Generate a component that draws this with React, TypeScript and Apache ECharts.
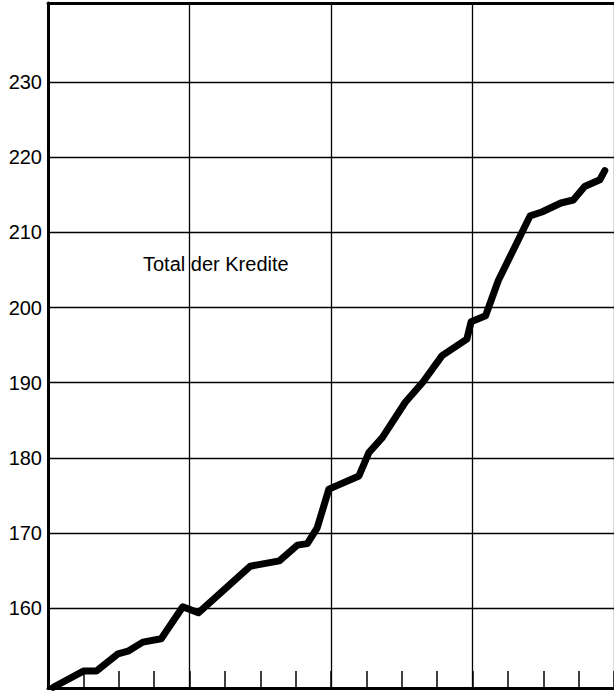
import React, { useEffect, useRef } from 'react';
import * as echarts from 'echarts';

// x position in quarters (0 = start of first year, 16 = end of fourth year)
const quarters = [
  0.15, 1.0, 1.37, 1.98, 2.26, 2.68, 3.2, 3.81, 4.25, 5.72, 6.54, 7.05, 7.33, 7.61, 7.94,
  8.79, 9.07, 9.45, 10.1, 10.6, 11.14, 11.84, 11.96, 12.37, 12.73, 13.63, 13.96, 14.5,
  14.85, 15.17, 15.6, 15.74,
];
// total credits
const credits = [
  149.5, 151.65, 151.65, 153.95, 154.3, 155.5, 155.95, 160.2, 159.4, 165.6, 166.3, 168.4,
  168.6, 170.7, 175.85, 177.6, 180.7, 182.7, 187.4, 190.1, 193.6, 195.8, 198.1, 198.9,
  203.6, 212.2, 212.7, 213.9, 214.3, 216.1, 217.0, 218.2,
];
const yTickValues = [160, 170, 180, 190, 200, 210, 220, 230];
const seriesLabel = 'Total der Kredite';

export default function App() {
  const ref = useRef<HTMLDivElement>(null);
  useEffect(() => {
    const chart = echarts.init(ref.current!, null, { renderer: 'svg' });
    chart.setOption({
      animation: false,
      backgroundColor: '#fff',
      grid: { left: 48, top: 3, right: -2, bottom: 4, show: false },
      xAxis: [
        {
          type: 'value',
          min: 0,
          max: 16,
          interval: 1,
          position: 'bottom',
          axisLine: { show: true, onZero: false, lineStyle: { color: '#000', width: 3 } },
          axisTick: { show: true, inside: true, length: 17, lineStyle: { color: '#000', width: 1.5 } },
          axisLabel: { show: false },
          splitLine: { show: false },
        },
        {
          type: 'value',
          min: 0,
          max: 16,
          interval: 4,
          position: 'top',
          axisLine: { show: true, onZero: false, lineStyle: { color: '#000', width: 3 } },
          axisTick: { show: false },
          axisLabel: { show: false },
          splitLine: { show: true, lineStyle: { color: '#000', width: 1.3 } },
        },
      ],
      yAxis: {
        type: 'value',
        min: 149.4,
        max: 240.5,
        axisLine: { show: true, onZero: false, lineStyle: { color: '#000', width: 3 } },
        axisTick: { show: false, customValues: yTickValues },
        axisLabel: {
          customValues: yTickValues,
          color: '#000',
          fontSize: 20,
          fontFamily: 'Liberation Sans',
          margin: 6,
        },
        splitLine: { show: true, lineStyle: { color: '#000', width: 1.3 } },
      },
      series: [
        {
          type: 'line',
          name: seriesLabel,
          xAxisIndex: 0,
          data: quarters.map((q, i) => [q, credits[i]]),
          showSymbol: false,
          symbol: 'none',
          clip: true,
          lineStyle: { color: '#000', width: 7, cap: 'round', join: 'round' },
        },
      ],
      graphic: [
        {
          type: 'text',
          left: 143,
          top: 254,
          style: {
            text: seriesLabel,
            fontSize: 20,
            fontFamily: 'Liberation Sans',
            fill: '#000',
          },
        },
      ],
    });
    return () => chart.dispose();
  }, []);
  return (
    <div
      ref={ref}
      style={{ position: 'fixed', left: 0, top: 0, width: 614, height: 692 }}
    />
  );
}
